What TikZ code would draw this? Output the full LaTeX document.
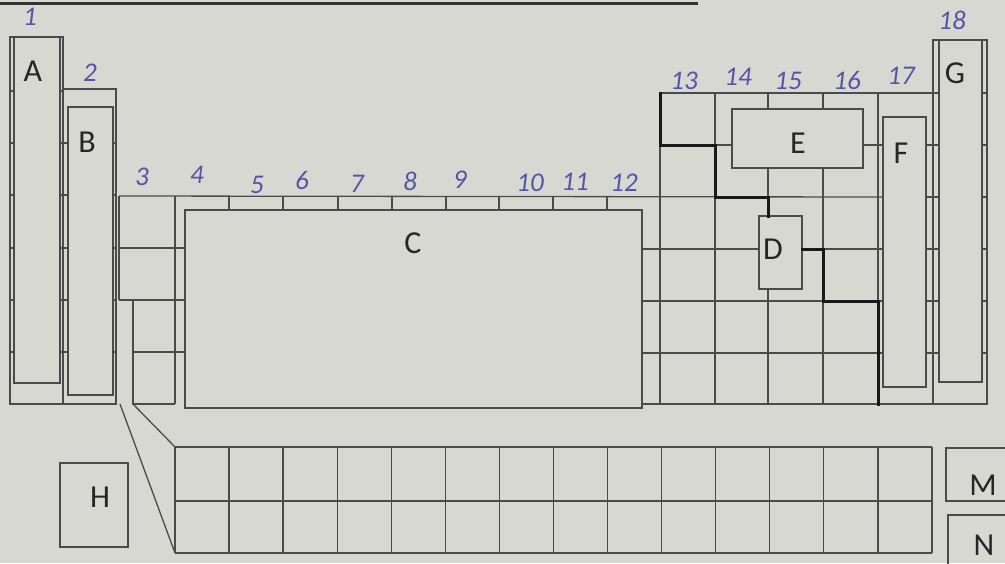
\documentclass[tikz,border=0pt]{standalone}
\usepackage{fontspec}
\setmainfont{Carlito}
\begin{document}
\begin{tikzpicture}[x=1pt,y=-1pt,
  ln/.style={draw=linec, line width=1.3pt},
  thk/.style={draw=black!90, line width=3pt, line cap=rect},
  letter/.style={font=\fontsize{32}{34}\selectfont, text=black!85, inner sep=0pt},
  grp/.style={font=\itshape\fontsize{27}{29}\selectfont, text=pen, inner sep=0pt}]
\definecolor{paper}{RGB}{216,216,211}
\definecolor{linec}{RGB}{75,75,75}
\definecolor{pen}{RGB}{85,85,165}
\fill[paper] (0,0) rectangle (1005,563);
\useasboundingbox (0,0) rectangle (1005,563);
\clip (0,0) rectangle (1005,563);
% cut-off underline at the top edge
\draw[draw=black!80, line width=3pt] (0,3) -- (698,3);
% group 1
\draw[ln] (10,37) rectangle (63,404);
\draw[ln] (14,37) rectangle (60,383);
\foreach \y in {91,143,195,248,300,352} {\draw[ln] (10,\y)--(14,\y) (60,\y)--(63,\y);}
% group 2
\draw[ln] (63,89) rectangle (116,404);
\draw[ln] (68,107) rectangle (113,395);
\foreach \y in {143,195,248,300,352} {\draw[ln] (63,\y)--(68,\y) (113,\y)--(116,\y);}
% group 3
\draw[ln] (119,196) -- (119,300);
\draw[ln] (119,248) -- (185,248) (119,300) -- (185,300);
\draw[ln] (133,300) -- (133,404) -- (175,404);
\draw[ln] (133,352) -- (185,352);
\draw[ln] (175,196) -- (175,404);
% row 4 top line
\draw[ln] (119,196) -- (883,197);
\foreach \x in {229,283,338,392,446,499,553,607} {\draw[ln] (\x,196) -- (\x,210);}
% transition block C
\draw[ln] (185,210) rectangle (642,408);
% p-block grid
\draw[ln] (660,93) -- (933,93);
\draw[ln] (660,93) -- (660,404);
\draw[ln] (715,93) -- (715,404);
\draw[ln] (768,93) -- (768,109) (768,168) -- (768,216) (768,289) -- (768,404);
\draw[ln] (823,93) -- (823,109) (823,168) -- (823,404);
\draw[ln] (878,93) -- (878,404);
\draw[ln] (660,145) -- (732,145) (863,145) -- (883,145);
\draw[ln] (642,249) -- (759,249) (802,249) -- (883,249);
\draw[ln] (642,301) -- (883,301);
\draw[ln] (642,353) -- (883,353);
\draw[ln] (642,404) -- (987,404);
% E and D
\draw[ln] (732,109) rectangle (863,168);
\draw[ln] (759,216) rectangle (802,289);
% group 17
\draw[ln] (883,117) rectangle (926,387);
\foreach \y in {145,197,249,301,353} {\draw[ln] (926,\y)--(933,\y);}
% group 18
\draw[ln] (933,40) rectangle (987,404);
\draw[ln] (939,40) rectangle (982,382);
\foreach \y in {93,145,197,249,301,353} {\draw[ln] (933,\y)--(939,\y) (982,\y)--(987,\y);}
% staircase
\coordinate (s0) at (660,93);
\coordinate (dtop) at (768,216);
\coordinate (dright) at (802,249);
\coordinate (s9) at (878,404);
\draw[thk] (s0) -- (660,145) -- (715,145) -- (715,197) -- (768,197) -- (dtop);
\draw[thk] (dright) -- (823,249) -- (823,301) -- (878,301) -- (s9);
% f-block
\draw[ln] (120,404) -- (175,553);
\draw[ln] (133,404) -- (175,447);
\foreach \i in {0,...,14} {\draw[ln] ({175+\i*54.07},447) -- ({175+\i*54.07},553);}
\draw[ln] (175,447) -- (932,447) (175,501) -- (932,501) (175,553) -- (932,553);
% H, M, N
\draw[ln] (60,463) rectangle (128,547);
\draw[ln] (946,448) rectangle (1015,501);
\draw[ln] (948,515) rectangle (1015,575);
% letters
\node[letter] (lA) at (33,71) {A};
\node[letter] (lB) at (87,142) {B};
\node[letter] (lC) at (413,243) {C};
\node[letter] (lD) at (773,249) {D};
\node[letter] (lE) at (798,143) {E};
\node[letter] (lF) at (901,153) {F};
\node[letter] (lG) at (955,73) {G};
\node[letter] (lH) at (100,497) {H};
\node[letter] (lM) at (983,485) {M};
\node[letter] (lN) at (984,545) {N};
% group numbers
\node[grp] (g1) at (30,17) {1};
\node[grp] (g2) at (90,73) {2};
\node[grp] (g3) at (142,177) {3};
\node[grp] (g4) at (197,175) {4};
\node[grp] (g5) at (257,185) {5};
\node[grp] (g6) at (302,180) {6};
\node[grp] (g7) at (357,184) {7};
\node[grp] (g8) at (410,181) {8};
\node[grp] (g9) at (460,180) {9};
\node[grp] (g10) at (530,183) {10};
\node[grp] (g11) at (575,182) {11};
\node[grp] (g12) at (624,183) {12};
\node[grp] (g13) at (684,81) {13};
\node[grp] (g14) at (738,77) {14};
\node[grp] (g15) at (788,81) {15};
\node[grp] (g16) at (847,80) {16};
\node[grp] (g17) at (901,76) {17};
\node[grp] (g18) at (952,20) {18};
\end{tikzpicture}
\end{document}
